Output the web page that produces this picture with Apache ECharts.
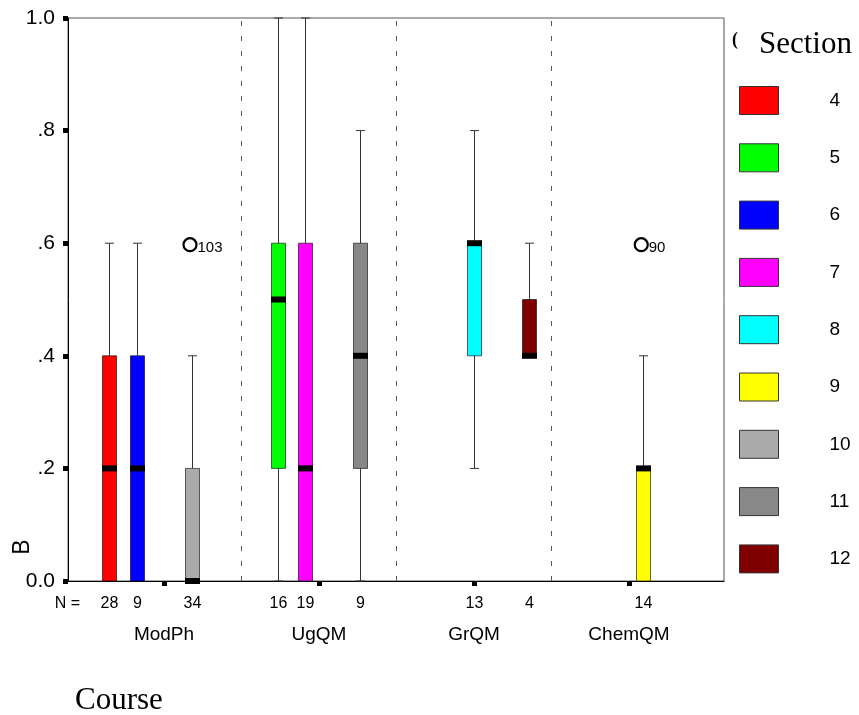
<!DOCTYPE html>
<html>
<head>
<meta charset="utf-8">
<script src="https://cdn.jsdelivr.net/npm/echarts@6/dist/echarts.min.js"></script>
<style>html,body{margin:0;padding:0;background:#fff;}#chart{width:859px;height:715px;}</style>
</head>
<body>
<div id="chart"></div>
<script>
// ---- data ----
const courses = ['ModPh', 'UgQM', 'GrQM', 'ChemQM'];
const sections = ['4', '5', '6', '7', '8', '9', '10', '11', '12'];
const yTicks = ['0.0', '.2', '.4', '.6', '.8', '1.0'];

const boxSection = ['4', '6', '10', '5', '7', '11', '8', '12', '9'];
const boxCourse  = ['ModPh', 'ModPh', 'ModPh', 'UgQM', 'UgQM', 'UgQM', 'GrQM', 'GrQM', 'ChemQM'];
const boxMin     = [0,   0,   0,   0,   0,   0,   0.2, 0.4, 0];
const boxQ1      = [0,   0,   0,   0.2, 0,   0.2, 0.4, 0.4, 0];
const boxMedian  = [0.2, 0.2, 0,   0.5, 0.2, 0.4, 0.6, 0.4, 0.2];
const boxQ3      = [0.4, 0.4, 0.2, 0.6, 0.6, 0.6, 0.6, 0.5, 0.2];
const boxMax     = [0.6, 0.6, 0.4, 1.0, 1.0, 0.8, 0.8, 0.6, 0.4];
const boxN       = [28,  9,   34,  16,  19,  9,   13,  4,   14];

const outlierSection = ['10', '9'];
const outlierCourse  = ['ModPh', 'ChemQM'];
const outlierValue   = [0.6, 0.6];
const outlierLabel   = ['103', '90'];

// ---- layout / style (not data) ----
const sectionColors = {
  '4': '#FF0000', '5': '#00FF00', '6': '#0000FF', '7': '#FF00FF', '8': '#00FFFF',
  '9': '#FFFF00', '10': '#AAAAAA', '11': '#888888', '12': '#800000'
};
// slot of each box inside its course cluster (in slot widths from cluster centre)
const boxSlot = [-2, -1, 1, -1.5, -0.5, 1.5, 0, 2, 0.5];
const slotUnit = 27.5 / 155;
const FONT = '"Liberation Sans", Arial, sans-serif';
const SERIF = '"Liberation Serif", "Times New Roman", serif';

function boxX(i) { return courses.indexOf(boxCourse[i]) + boxSlot[i] * slotUnit; }

function renderBox(params, api) {
  const x = api.value(0);
  const pMin = api.coord([x, api.value(1)]);
  const pQ1 = api.coord([x, api.value(2)]);
  const pMed = api.coord([x, api.value(3)]);
  const pQ3 = api.coord([x, api.value(4)]);
  const pMax = api.coord([x, api.value(5)]);
  const n = api.value(6);
  const cx = Math.round(pMin[0]) + 0.5;
  const hw = 7, capHw = 4.5, medH = 6;
  const color = api.visual('color');
  const cs = params.coordSys;
  const children = [];
  const wStyle = { stroke: '#333', lineWidth: 1 };
  if (pMax[1] < pQ3[1] - 0.5) {
    children.push({ type: 'line', shape: { x1: cx, y1: pMax[1], x2: cx, y2: pQ3[1] }, style: wStyle });
    children.push({ type: 'line', shape: { x1: cx - capHw, y1: pMax[1], x2: cx + capHw, y2: pMax[1] }, style: wStyle });
  }
  if (pMin[1] > pQ1[1] + 0.5) {
    children.push({ type: 'line', shape: { x1: cx, y1: pQ1[1], x2: cx, y2: pMin[1] }, style: wStyle });
    children.push({ type: 'line', shape: { x1: cx - capHw, y1: pMin[1], x2: cx + capHw, y2: pMin[1] }, style: wStyle });
  }
  if (pQ1[1] > pQ3[1] + 0.5) {
    children.push({ type: 'rect', shape: { x: cx - hw, y: pQ3[1], width: hw * 2, height: pQ1[1] - pQ3[1] },
      style: { fill: color, stroke: 'rgba(0,0,0,0.6)', lineWidth: 1 } });
  }
  children.push({ type: 'rect', shape: { x: cx - hw - 0.5, y: pMed[1] - medH / 2, width: hw * 2 + 1, height: medH },
    style: { fill: '#000' } });
  children.push({ type: 'text', x: cx, y: cs.y + cs.height + 23,
    style: { text: String(n), font: '16px ' + FONT, fill: '#000', align: 'center', verticalAlign: 'middle' } });
  return { type: 'group', children: children };
}

function renderOutlier(params, api) {
  const p = api.coord([api.value(0), api.value(1)]);
  const label = outlierLabel[params.dataIndex];
  return { type: 'group', children: [
    { type: 'circle', shape: { cx: p[0] - 1.5, cy: p[1] + 1.5, r: 6.5 }, style: { fill: 'none', stroke: '#000', lineWidth: 2.2 } },
    { type: 'text', x: p[0] + 6, y: p[1] + 5,
      style: { text: label, font: '15px ' + FONT, fill: '#000', align: 'left', verticalAlign: 'middle' } }
  ] };
}

const series = sections.map(function (sec) {
  const data = [];
  boxSection.forEach(function (s, i) {
    if (s === sec) data.push([boxX(i), boxMin[i], boxQ1[i], boxMedian[i], boxQ3[i], boxMax[i], boxN[i]]);
  });
  return {
    type: 'custom', name: sec, renderItem: renderBox, clip: false, z: 3,
    itemStyle: { color: sectionColors[sec] },
    encode: { x: 0, y: [1, 2, 3, 4, 5] },
    data: data
  };
});

series.push({
  type: 'custom', name: 'outliers', renderItem: renderOutlier, clip: false, z: 4,
  encode: { x: 0, y: 1 },
  data: outlierValue.map(function (v, i) {
    const bi = boxSection.findIndex(function (s, j) { return s === outlierSection[i] && boxCourse[j] === outlierCourse[i]; });
    return [boxX(bi), v];
  }),
  markLine: {
    silent: true, symbol: 'none', label: { show: false },
    lineStyle: { color: '#555', width: 1, type: [5, 10] },
    data: courses.slice(1).map(function (c, i) { return { xAxis: i + 0.5 }; })
  }
});

const chart = echarts.init(document.getElementById('chart'), null, { renderer: 'canvas' });
chart.setOption({
  animation: false,
  backgroundColor: '#fff',
  grid: { left: 68, right: 135, top: 18, bottom: 134, show: true, borderColor: '#555', borderWidth: 1, containLabel: false },
  xAxis: {
    type: 'value', min: -0.6194, max: 3.6129,
    splitLine: { show: false },
    axisLine: { show: true, onZero: false, lineStyle: { color: '#000', width: 1 } },
    axisTick: { show: true, length: 5, customValues: courses.map(function (c, i) { return i; }), lineStyle: { color: '#000', width: 5 } },
    axisLabel: {
      show: true, margin: 44, customValues: courses.map(function (c, i) { return i; }),
      formatter: function (v) { return courses[Math.round(v)]; },
      fontFamily: FONT, fontSize: 19, color: '#000'
    }
  },
  yAxis: {
    type: 'value', min: 0, max: 1, interval: 0.2,
    splitLine: { show: false },
    axisLine: { show: true, onZero: false, lineStyle: { color: '#000', width: 1 } },
    axisTick: { show: true, length: 5, lineStyle: { color: '#000', width: 5 } },
    axisLabel: {
      margin: 13, fontFamily: FONT, fontSize: 21, color: '#000',
      formatter: function (v) { return yTicks[Math.round(v * 5)]; }
    }
  },
  legend: {
    data: sections, orient: 'vertical', left: 739, top: 86, padding: 0,
    itemWidth: 39, itemHeight: 28, itemGap: 28.3, icon: 'rect', selectedMode: false,
    itemStyle: { borderColor: '#333', borderWidth: 1 },
    textStyle: { fontFamily: FONT, fontSize: 19, lineHeight: 16, color: '#000', padding: [10, 0, 0, 46] }
  },
  graphic: [
    { type: 'text', x: 759, y: 45, style: { text: 'Section', font: '31px ' + SERIF, fill: '#000', align: 'left', verticalAlign: 'middle' } },
    { type: 'text', x: 732, y: 40, style: { text: '(', font: 'bold 18px ' + SERIF, fill: '#000', align: 'left', verticalAlign: 'middle' } },
    { type: 'text', x: 75, y: 701, style: { text: 'Course', font: '31px ' + SERIF, fill: '#000', align: 'left', verticalAlign: 'middle' } },
    { type: 'text', x: 67.5, y: 604, style: { text: 'N =', font: '16px ' + FONT, fill: '#000', align: 'center', verticalAlign: 'middle' } },
    { type: 'text', x: 23, y: 547, rotation: Math.PI / 2, style: { text: 'B', font: '23px ' + FONT, fill: '#000', align: 'center', verticalAlign: 'middle' } }
  ],
  series: series
});
</script>
</body>
</html>
